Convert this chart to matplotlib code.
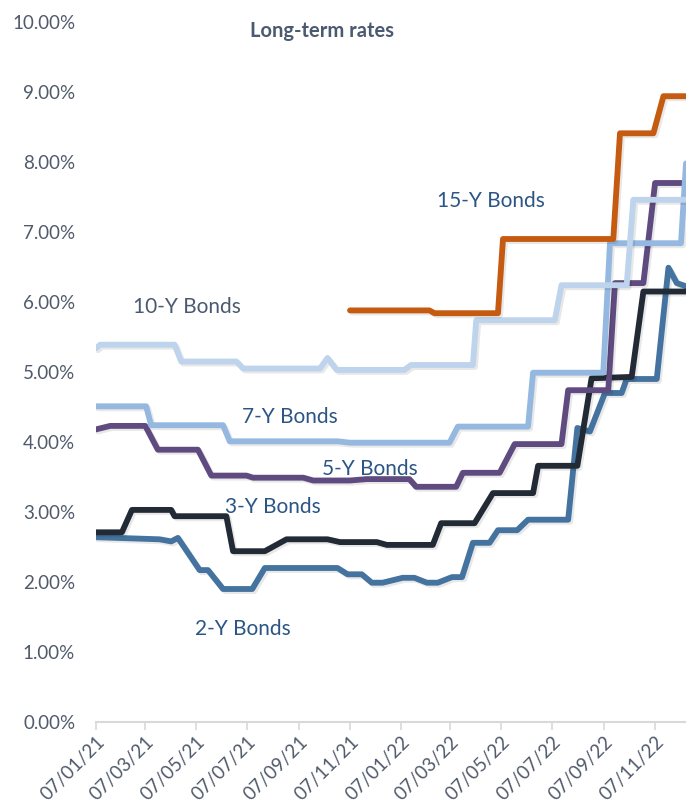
import matplotlib
matplotlib.use("Agg")
import matplotlib.pyplot as plt
import matplotlib.dates as mdates
import matplotlib.patheffects as pe
import pandas as pd

plt.rcParams['font.family'] = ['Lato', 'DejaVu Sans']

# breakpoints of each yield curve (date, % rate)
y2_dates = ["2021-01-07", "2021-03-24", "2021-04-07", "2021-04-15", "2021-05-11", "2021-05-21",
            "2021-06-08", "2021-07-13", "2021-07-28", "2021-10-23", "2021-11-04", "2021-11-21",
            "2021-12-03", "2021-12-16", "2022-01-09", "2022-01-23", "2022-02-07", "2022-02-20",
            "2022-03-09", "2022-03-21", "2022-04-03", "2022-04-23", "2022-05-03", "2022-05-26",
            "2022-06-08", "2022-07-26", "2022-08-06", "2022-08-21", "2022-09-08", "2022-09-28",
            "2022-10-04", "2022-11-09", "2022-11-23", "2022-12-03", "2022-12-20"]
y2_vals = [2.64, 2.61, 2.58, 2.63, 2.17, 2.17,
           1.90, 1.90, 2.20, 2.20, 2.11, 2.11,
           1.99, 1.99, 2.06, 2.06, 1.99, 1.99,
           2.07, 2.07, 2.56, 2.56, 2.74, 2.74,
           2.89, 2.89, 4.20, 4.15, 4.70, 4.70,
           4.90, 4.90, 6.49, 6.27, 6.20]

y3_dates = ["2021-01-07", "2021-02-07", "2021-02-19", "2021-04-07", "2021-04-11", "2021-06-12",
            "2021-06-20", "2021-07-28", "2021-08-23", "2021-10-11", "2021-10-26", "2021-12-09",
            "2021-12-21", "2022-02-14", "2022-02-24", "2022-04-05", "2022-04-27", "2022-06-14",
            "2022-06-20", "2022-08-06", "2022-08-23", "2022-10-10", "2022-10-24", "2022-12-20"]
y3_vals = [2.71, 2.71, 3.03, 3.03, 2.94, 2.94,
           2.44, 2.44, 2.61, 2.61, 2.57, 2.57,
           2.53, 2.53, 2.84, 2.84, 3.27, 3.27,
           3.66, 3.66, 4.91, 4.93, 6.15, 6.15]

y5_dates = ["2021-01-07", "2021-01-24", "2021-03-07", "2021-03-22", "2021-05-09", "2021-05-25",
            "2021-07-06", "2021-07-14", "2021-09-12", "2021-09-24", "2021-11-07", "2021-11-27",
            "2022-01-17", "2022-01-25", "2022-03-14", "2022-03-22", "2022-05-05", "2022-05-23",
            "2022-07-18", "2022-07-26", "2022-09-12", "2022-09-20", "2022-10-24", "2022-11-07",
            "2022-12-20"]
y5_vals = [4.18, 4.23, 4.23, 3.89, 3.89, 3.52,
           3.52, 3.49, 3.49, 3.45, 3.45, 3.47,
           3.47, 3.36, 3.36, 3.56, 3.56, 3.97,
           3.97, 4.74, 4.74, 6.27, 6.27, 7.70,
           7.70]

y7_dates = ["2021-01-07", "2021-03-08", "2021-03-14", "2021-06-08", "2021-06-16", "2021-10-23",
            "2021-11-07", "2022-03-06", "2022-03-16", "2022-06-08", "2022-06-14", "2022-09-06",
            "2022-09-14", "2022-12-08", "2022-12-14"]
y7_vals = [4.51, 4.51, 4.24, 4.24, 4.01, 4.01,
           3.99, 3.99, 4.22, 4.22, 4.99, 4.99,
           6.84, 6.84, 7.98]

y10_dates = ["2021-01-07", "2021-01-12", "2021-04-11", "2021-04-19", "2021-06-24", "2021-07-02",
             "2021-10-02", "2021-10-11", "2021-10-22", "2022-01-11", "2022-01-19", "2022-04-03",
             "2022-04-07", "2022-07-10", "2022-07-18", "2022-10-04", "2022-10-12", "2022-12-20"]
y10_vals = [5.34, 5.39, 5.39, 5.15, 5.15, 5.05,
            5.05, 5.20, 5.03, 5.03, 5.10, 5.10,
            5.74, 5.74, 6.24, 6.24, 7.46, 7.46]

y15_dates = ["2021-11-07", "2022-02-10", "2022-02-16", "2022-05-03", "2022-05-09", "2022-09-18",
             "2022-09-26", "2022-11-05", "2022-11-17", "2022-12-20"]
y15_vals = [5.88, 5.88, 5.84, 5.84, 6.90, 6.90,
            8.41, 8.41, 8.94, 8.94]

tick_dates = ["2021-01-07", "2021-03-07", "2021-05-07", "2021-07-07", "2021-09-07", "2021-11-07",
              "2022-01-07", "2022-03-07", "2022-05-07", "2022-07-07", "2022-09-07", "2022-11-07"]
y_ticks = [0, 1, 2, 3, 4, 5, 6, 7, 8, 9, 10]

series = [
    (y2_dates, y2_vals, "#44739F"),
    (y3_dates, y3_vals, "#222A35"),
    (y5_dates, y5_vals, "#5F4B80"),
    (y7_dates, y7_vals, "#95B8E0"),
    (y10_dates, y10_vals, "#BED3EC"),
    (y15_dates, y15_vals, "#C55A11"),
]

fig = plt.figure(figsize=(6.86, 8.07), dpi=100)
ax = fig.add_axes([96 / 686, 1 - 722 / 807, 1 - 96 / 686, 700 / 807])

shadow = [pe.SimpleLineShadow(offset=(1.5, -1.5), shadow_color="black", alpha=0.09), pe.Normal()]
for d, v, c in series:
    ax.plot(pd.to_datetime(d), v, color=c, lw=4.2, solid_capstyle="round",
            solid_joinstyle="round", path_effects=shadow)

ax.set_ylim(0, 10)
ax.set_xlim(pd.Timestamp("2021-01-07"), pd.Timestamp("2022-12-14"))
ax.set_yticks(y_ticks)
ax.set_yticklabels([f"{t:.2f}%" for t in y_ticks])
ax.set_xticks(pd.to_datetime(tick_dates))
ax.xaxis.set_major_formatter(mdates.DateFormatter("%d/%m/%y"))

for s in ["top", "right", "left"]:
    ax.spines[s].set_visible(False)
ax.spines["bottom"].set_color("#D9D9D9")
ax.spines["bottom"].set_linewidth(1.5)
ax.tick_params(axis="y", length=0, pad=15, labelsize=13.5, labelcolor="#505A6B")
ax.tick_params(axis="x", length=6, width=1.2, color="#D9D9D9", labelsize=13.5,
               labelcolor="#505A6B", pad=2)
for lab in ax.get_xticklabels():
    lab.set_rotation(45)
    lab.set_ha("right")
    lab.set_va("top")
    lab.set_rotation_mode("anchor")

lbl = "#2B5585"
ax.text(0.578, 0.7364, "15-Y Bonds", transform=ax.transAxes, fontsize=15, color=lbl)
ax.text(0.0627, 0.5843, "10-Y Bonds", transform=ax.transAxes, fontsize=15, color="#4A5A70")
ax.text(0.2469, 0.4271, "7-Y Bonds", transform=ax.transAxes, fontsize=15, color=lbl)
ax.text(0.3825, 0.3529, "5-Y Bonds", transform=ax.transAxes, fontsize=15, color=lbl)
ax.text(0.2186, 0.2981, "3-Y Bonds", transform=ax.transAxes, fontsize=15, color=lbl)
ax.text(0.1678, 0.1243, "2-Y Bonds", transform=ax.transAxes, fontsize=15, color=lbl)
ax.text(0.261, 0.979, "Long-term rates", transform=ax.transAxes, fontsize=14.5,
        fontweight="bold", color="#4A5A70")

fig.savefig("out.png", dpi=100)
